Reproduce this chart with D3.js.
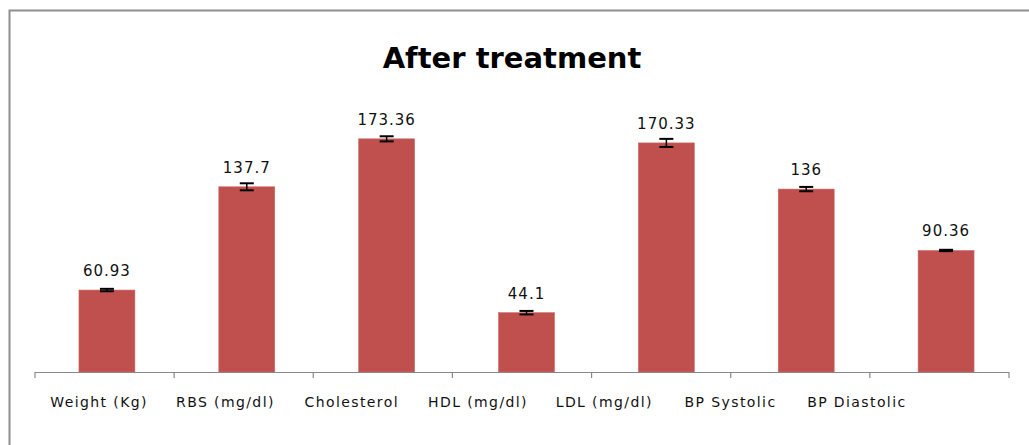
<!DOCTYPE html>
<html>
<head>
<meta charset="utf-8">
<script src="https://cdn.jsdelivr.net/npm/d3@7"></script>
<style>
  body { margin: 0; background: #fff; }
  svg { display: block; }
</style>
</head>
<body>
<svg id="chart" width="1029" height="445"></svg>
<script>
// chart data
const categories = ["Weight (Kg)", "RBS (mg/dl)", "Cholesterol", "HDL (mg/dl)", "LDL (mg/dl)", "BP Systolic", "BP Diastolic"];
const values = [60.93, 137.7, 173.36, 44.1, 170.33, 136, 90.36];
const valueLabels = ["60.93", "137.7", "173.36", "44.1", "170.33", "136", "90.36"];
const errors = [0.9, 2.6, 1.9, 1.3, 3.0, 1.6, 0.5];

const svg = d3.select("#chart");

// outer chart border (only top/left visible)
svg.append("rect")
  .attr("x", 9.5).attr("y", 10.5)
  .attr("width", 1100).attr("height", 600)
  .attr("fill", "none")
  .attr("stroke", "#8e8e8e")
  .attr("stroke-width", 2);

// title
svg.append("text")
  .attr("x", 512).attr("y", 68)
  .attr("text-anchor", "middle")
  .style("font-family", "DejaVu Sans")
  .style("font-weight", "bold")
  .style("font-size", "29px")
  .text("After treatment");

// bars sit a touch right of the axis bands in the original
const x = d3.scaleBand()
  .domain(categories)
  .range([37, 1016])
  .paddingInner(0.6)
  .paddingOuter(0.3);

// axis band boundaries
const xAxis = d3.scaleBand()
  .domain(categories)
  .range([35, 1009]);

const y = d3.scaleLinear()
  .domain([0, 200])
  .range([372, 103]);

// label positions in excel are drifted left of the bars
const xLabel = d3.scaleBand()
  .domain(categories)
  .range([36, 920]);

// bars
svg.selectAll("rect.bar")
  .data(values)
  .join("rect")
  .attr("class", "bar")
  .attr("x", (d, i) => x(categories[i]))
  .attr("width", x.bandwidth())
  .attr("y", d => y(d))
  .attr("height", d => y(0) - y(d))
  .attr("fill", "#c0504d")
  .attr("stroke", "#c96b68")
  .attr("stroke-width", 0.6);

// error bars
const eb = svg.selectAll("g.err")
  .data(values)
  .join("g")
  .attr("class", "err")
  .attr("transform", (d, i) => `translate(${x(categories[i]) + x.bandwidth() / 2},0)`);

eb.append("line")
  .attr("y1", (d, i) => y(d + errors[i]))
  .attr("y2", (d, i) => y(d - errors[i]))
  .attr("stroke", "#000").attr("stroke-width", 1.5);
eb.append("line")
  .attr("x1", -7).attr("x2", 7)
  .attr("y1", (d, i) => y(d + errors[i]))
  .attr("y2", (d, i) => y(d + errors[i]))
  .attr("stroke", "#000").attr("stroke-width", 2);
eb.append("line")
  .attr("x1", -7).attr("x2", 7)
  .attr("y1", (d, i) => y(d - errors[i]))
  .attr("y2", (d, i) => y(d - errors[i]))
  .attr("stroke", "#000").attr("stroke-width", 2);

// value labels
svg.selectAll("text.val")
  .data(values)
  .join("text")
  .attr("class", "val")
  .attr("x", (d, i) => x(categories[i]) + x.bandwidth() / 2)
  .attr("y", d => y(d) - 14)
  .attr("text-anchor", "middle")
  .style("font-family", "DejaVu Sans")
  .style("font-size", "15px")
  .style("letter-spacing", "1px")
  .attr("fill", "#111")
  .text((d, i) => valueLabels[i]);

// x axis line + ticks at band boundaries
const axisG = svg.append("g");
axisG.append("line")
  .attr("x1", xAxis.range()[0]).attr("x2", xAxis.range()[1])
  .attr("y1", 372.5).attr("y2", 372.5)
  .attr("stroke", "#888").attr("stroke-width", 1.2);

const tickXs = categories.map(c => xAxis(c))
  .concat([xAxis.range()[1]]);
axisG.selectAll("line.tick")
  .data(tickXs)
  .join("line")
  .attr("class", "tick")
  .attr("x1", d => d).attr("x2", d => d)
  .attr("y1", 372).attr("y2", 378)
  .attr("stroke", "#888").attr("stroke-width", 1.2);

// category labels
svg.selectAll("text.cat")
  .data(categories)
  .join("text")
  .attr("class", "cat")
  .attr("x", d => xLabel(d) + xLabel.bandwidth() / 2)
  .attr("y", 407)
  .attr("text-anchor", "middle")
  .style("font-family", "DejaVu Sans")
  .style("font-size", "14px")
  .style("letter-spacing", "1.4px")
  .attr("fill", "#111")
  .text(d => d);
</script>
</body>
</html>
